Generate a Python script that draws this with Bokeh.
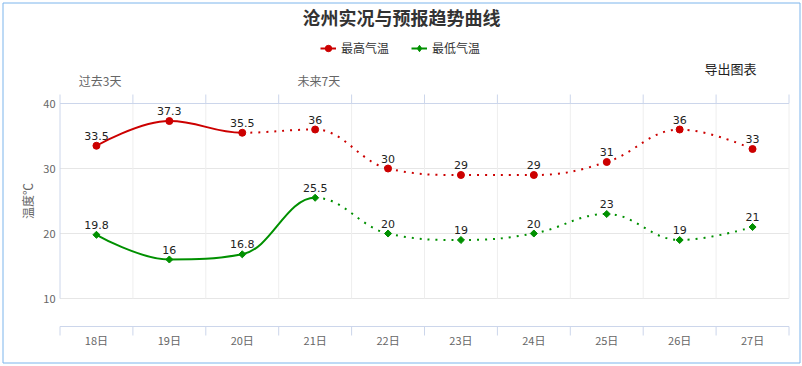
import math
from bokeh.plotting import figure
from bokeh.models import (Range1d, Label, Legend, LegendItem, ColumnDataSource)
from bokeh.core.properties import value
from bokeh.embed import file_html
from bokeh.resources import INLINE

# ---------------- data ----------------
days = ["18日", "19日", "20日", "21日", "22日", "23日", "24日", "25日", "26日", "27日"]
high = [33.5, 37.3, 35.5, 36, 30, 29, 29, 31, 36, 33]
low = [19.8, 16, 16.8, 25.5, 20, 19, 20, 23, 19, 21]
high_solid_segments = 2   # segments drawn as solid line (observed part)
low_solid_segments = 3
y_ticks = [10, 20, 30, 40]
title_text = "沧州实况与预报趋势曲线"
series_names = ["最高气温", "最低气温"]
y_title = "温度℃"
period_labels = ["过去3天", "未来7天"]
period_pos = [0.05, 3.05]
export_text = "导出图表"

# ---------------- style / layout (pixels) ----------------
RED = "#cc0000"
GREEN = "#009000"
AXIS = "#ccd6eb"
GRID = "#e6e6e6"
VGRID = "#eeeeee"
BORDER = "#7cb5ec"
FONT = "Noto Sans CJK SC"
W, H = 802, 366
PLOT_L, PLOT_R = 59.5, 788.5      # plot area left/right edge
PLOT_T = 103                       # pixel of the top value
XAXIS_PX = 326                     # pixel row of the detached x axis line
TICK_LEN = 9
BORDER_INSET = 2.5

n = len(days)
idx = list(range(n))
bounds = [i - 0.5 for i in range(n + 1)]
y_min, y_max = min(y_ticks), max(y_ticks)
sx = (PLOT_R - PLOT_L) / n         # px per category
sy = 6.5                           # px per degree
x0_data = -0.5 - PLOT_L / sx
x1_data = x0_data + W / sx
ytop_data = y_max + PLOT_T / sy
ybot_data = ytop_data - H / sy


def dy(px):
    return px / sy


def dx(px):
    return px / sx


def spline_segments(ys):
    """Highcharts-style spline control points for each segment."""
    xs = list(range(len(ys)))
    sm = 1.5
    den = sm + 1
    left = [(xs[i], ys[i]) for i in range(len(ys))]
    right = [(xs[i], ys[i]) for i in range(len(ys))]
    for i in range(1, len(ys) - 1):
        px, py = xs[i], ys[i]
        lx, ly = xs[i - 1], ys[i - 1]
        nx, ny = xs[i + 1], ys[i + 1]
        lcx = (sm * px + lx) / den
        lcy = (sm * py + ly) / den
        rcx = (sm * px + nx) / den
        rcy = (sm * py + ny) / den
        corr = ((rcy - lcy) * (rcx - px)) / (rcx - lcx) + py - rcy
        lcy += corr
        rcy += corr
        if lcy > ly and lcy > py:
            lcy = max(ly, py)
            rcy = 2 * py - lcy
        elif lcy < ly and lcy < py:
            lcy = min(ly, py)
            rcy = 2 * py - lcy
        if rcy > ny and rcy > py:
            rcy = max(ny, py)
            lcy = 2 * py - rcy
        elif rcy < ny and rcy < py:
            rcy = min(ny, py)
            lcy = 2 * py - rcy
        left[i] = (lcx, lcy)
        right[i] = (rcx, rcy)
    segs = []
    for i in range(1, len(ys)):
        segs.append(dict(x0=xs[i - 1], y0=ys[i - 1], x1=xs[i], y1=ys[i],
                         cx0=right[i - 1][0], cy0=right[i - 1][1],
                         cx1=left[i][0], cy1=left[i][1]))
    return segs


def seg_source(segs):
    keys = ["x0", "y0", "x1", "y1", "cx0", "cy0", "cx1", "cy1"]
    return ColumnDataSource({k: [s[k] for s in segs] for k in keys})


p = figure(width=W, height=H, x_range=Range1d(x0_data, x1_data),
           y_range=Range1d(ybot_data, ytop_data),
           x_axis_type=None, y_axis_type=None, output_backend="svg", toolbar_location=None,
           min_border=0, title=None)
p.outline_line_color = None
p.background_fill_color = "white"
p.border_fill_color = "white"
p.xgrid.visible = False
p.ygrid.visible = False

# ---- outer chart border ----
p.quad(left=[x0_data + dx(BORDER_INSET)], right=[x1_data - dx(BORDER_INSET)],
       top=[ytop_data - dy(BORDER_INSET)], bottom=[ybot_data + dy(H - 362.5)],
       fill_alpha=0, line_color=BORDER, line_width=1)

# ---- horizontal grid lines (value axis) ----
p.segment(x0=[bounds[0]] * len(y_ticks), y0=y_ticks, x1=[bounds[-1]] * len(y_ticks), y1=y_ticks,
          line_color=GRID, line_width=1)
# ---- vertical grid lines at category boundaries ----
p.segment(x0=bounds[1:], y0=[y_min] * n, x1=bounds[1:], y1=[y_max] * n,
          line_color=VGRID, line_width=1)
p.segment(x0=bounds[:1], y0=[y_min], x1=bounds[:1], y1=[y_max],
          line_color=AXIS, line_width=1)

# ---- top category axis: line, boundary ticks, period labels ----
p.segment(x0=[bounds[0]], y0=[y_max], x1=[bounds[-1]], y1=[y_max], line_color=AXIS, line_width=1)
p.segment(x0=bounds, y0=[y_max] * (n + 1), x1=bounds, y1=[y_max + dy(TICK_LEN)] * (n + 1),
          line_color=AXIS, line_width=1)
p.text(period_pos, [y_max + dy(23)] * len(period_pos), text=period_labels,
       text_align="center", text_baseline="middle", text_font=value(FONT),
       text_font_size="12px", text_color="#666666")

# ---- bottom category axis (detached below the plot area) ----
xaxis_y = y_max - dy(XAXIS_PX - PLOT_T)
p.segment(x0=[bounds[0]], y0=[xaxis_y], x1=[bounds[-1]], y1=[xaxis_y], line_color=AXIS, line_width=1)
p.segment(x0=bounds, y0=[xaxis_y] * (n + 1), x1=bounds, y1=[xaxis_y - dy(TICK_LEN)] * (n + 1),
          line_color=AXIS, line_width=1)
p.text(idx, [xaxis_y - dy(13)] * n, text=days, text_align="center", text_baseline="middle",
       text_font=value(FONT), text_font_size="11px", text_color="#666666")

# ---- value axis labels ----
p.text([bounds[0] - dx(4.5)] * len(y_ticks), y_ticks, text=[str(t) for t in y_ticks],
       text_align="right", text_baseline="middle", text_font=value(FONT),
       text_font_size="11px", text_color="#666666")
p.text([bounds[0] - dx(32.5)], [(y_min + y_max) / 2], text=[y_title], angle=math.pi / 2,
       text_align="center", text_baseline="middle", text_font=value(FONT),
       text_font_size="12px", text_color="#666666")

# ---- series ----
renderers = {}
for name, ys, color, nsolid, mk in [(series_names[0], high, RED, high_solid_segments, "circle"),
                                     (series_names[1], low, GREEN, low_solid_segments, "diamond")]:
    segs = spline_segments(ys)
    solid = p.bezier(source=seg_source(segs[:nsolid]), x0="x0", y0="y0", x1="x1", y1="y1",
                     cx0="cx0", cy0="cy0", cx1="cx1", cy1="cy1",
                     line_color=color, line_width=2)
    p.bezier(source=seg_source(segs[nsolid:]), x0="x0", y0="y0", x1="x1", y1="y1",
             cx0="cx0", cy0="cy0", cx1="cx1", cy1="cy1",
             line_color=color, line_width=2, line_dash="2 6")
    if mk == "circle":
        sc = p.scatter(idx, ys, marker="circle", size=7, fill_color=color, line_color=color)
        leg_marker = sc
    else:
        # small diamond (also used as the legend symbol), covered by the rotated square
        leg_marker = p.scatter(idx, ys, marker="diamond", size=4,
                               fill_color=color, line_color=color)
        p.scatter(idx, ys, marker="square", angle=math.pi / 4, size=5,
                  fill_color=color, line_color=color)
    p.text(idx, ys, text=[f"{v:g}" for v in ys], text_align="center", text_baseline="middle",
           y_offset=-10, text_font=value("DejaVu Sans"), text_font_size="11px",
           text_color="#222222")
    renderers[name] = [solid, leg_marker]

# ---- legend (screen position: bottom-left offset from the canvas bottom-left) ----
legend = Legend(items=[LegendItem(label=nm, renderers=renderers[nm]) for nm in series_names],
                orientation="horizontal", location=(320, H - 56), padding=0, margin=0,
                spacing=22, glyph_width=16, glyph_height=16, label_height=12,
                label_standoff=5, label_text_font=FONT, label_text_font_size="12px",
                label_text_color="#333333", border_line_color=None,
                background_fill_alpha=0)
p.add_layout(legend)

# ---- title and export text ----
p.add_layout(Label(x=W / 2, y=H - 16, x_units="screen", y_units="screen", text=title_text,
                   text_align="center", text_baseline="middle", text_font=FONT,
                   text_font_size="18px", text_font_style="bold", text_color="#333333"))
p.add_layout(Label(x=730, y=H - 68, x_units="screen", y_units="screen", text=export_text,
                   text_align="center", text_baseline="middle", text_font=FONT,
                   text_font_size="13px", text_color="#222222"))

open("out.html", "w").write(file_html(p, INLINE))
